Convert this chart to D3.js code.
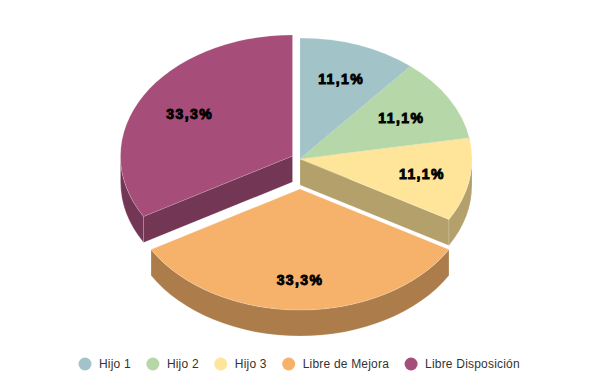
<!DOCTYPE html>
<html>
<head>
<meta charset="utf-8">
<script src="https://cdn.jsdelivr.net/npm/d3@7"></script>
<style>
    html, body { margin: 0; padding: 0; background: #fff; }
    svg { display: block; }
</style>
</head>
<body>
<svg></svg>
<script>
(function () {
    'use strict';

    const categories = ['Hijo 1', 'Hijo 2', 'Hijo 3', 'Libre de Mejora', 'Libre Disposición'];
    const values = [11.1, 11.1, 11.1, 33.3, 33.3];
    const colors = ['#a2c4c9', '#b6d7a8', '#ffe599', '#f6b26b', '#a64d79'];

    const width = 600;
    const height = 371;

    const cx = 300;
    const cy = 159;
    const rx = 172;
    const ry = 121;
    const depth = 26;
    const squash = ry / rx;

    // how far each slice is pulled out of the pie
    const explode = [[0, 0], [0, 0], [0, 0], [0, 30], [-7.5, -3]];
    const labelRadius = [0.7, 0.68, 0.72, 0.75, 0.69];

    const svg = d3.select('svg')
        .attr('width', width)
        .attr('height', height)
        .attr('viewBox', [0, 0, width, height]);

    const pie = d3.pie().sort(null).value(d => d);
    const arcs = pie(values).map((a, i) => ({ ...a, i, off: explode[i] }));

    const arc = d3.arc().innerRadius(0).outerRadius(rx);

    const sliceTransform = d =>
        `translate(${cx + d.off[0]},${cy + d.off[1]}) scale(1,${squash})`;

    const h = depth / squash;

    // outer rim, only the part of it that faces the viewer
    const rimPath = d => {
        const a0 = Math.max(d.startAngle, Math.PI / 2) - Math.PI / 2;
        const a1 = Math.min(d.endAngle, Math.PI * 1.5) - Math.PI / 2;
        if (a1 <= a0) return null;
        const p = d3.path();
        p.arc(0, 0, rx, a0, a1);
        p.lineTo(rx * Math.cos(a1), rx * Math.sin(a1) + h);
        p.arc(0, h, rx, a1, a0, true);
        p.closePath();
        return p.toString();
    };

    // flat cut side of a slice going from the centre to the rim
    const cutPath = angle => {
        const a = angle - Math.PI / 2;
        const p = d3.path();
        p.moveTo(0, 0);
        p.lineTo(rx * Math.cos(a), rx * Math.sin(a));
        p.lineTo(rx * Math.cos(a), rx * Math.sin(a) + h);
        p.lineTo(0, h);
        p.closePath();
        return p.toString();
    };

    const cutAngles = d => {
        const out = [];
        if (Math.sin(d.startAngle) < -1e-6) out.push(d.startAngle);
        if (Math.sin(d.endAngle) > 1e-6) out.push(d.endAngle);
        return out;
    };

    const edge = sel => sel
        .attr('stroke', '#fff')
        .attr('stroke-opacity', 0.25)
        .attr('stroke-width', 0.6)
        .attr('vector-effect', 'non-scaling-stroke');

    const sides = svg.append('g').classed('sides', true);

    sides.selectAll('g')
        .data(arcs)
        .join('g')
        .attr('transform', sliceTransform)
        .each(function (d) {
            const g = d3.select(this);
            const fill = d3.rgb(colors[d.i]);
            const dark = d3.rgb(fill.r * 0.7, fill.g * 0.7, fill.b * 0.7);
            cutAngles(d).forEach(angle => {
                g.append('path').attr('d', cutPath(angle)).attr('fill', dark).call(edge);
            });
            const rim = rimPath(d);
            if (rim) g.append('path').attr('d', rim).attr('fill', dark).call(edge);
        });

    svg.append('g').classed('tops', true)
        .selectAll('path')
        .data(arcs)
        .join('path')
        .attr('transform', sliceTransform)
        .attr('d', arc)
        .attr('fill', d => colors[d.i])
        .call(edge);

    svg.append('g').classed('labels', true)
        .selectAll('text')
        .data(arcs)
        .join('text')
        .attr('x', d => {
            const mid = (d.startAngle + d.endAngle) / 2;
            return cx + d.off[0] + rx * labelRadius[d.i] * Math.sin(mid);
        })
        .attr('y', d => {
            const mid = (d.startAngle + d.endAngle) / 2;
            return cy + d.off[1] - ry * labelRadius[d.i] * Math.cos(mid);
        })
        .attr('dy', '0.35em')
        .attr('text-anchor', 'middle')
        .attr('font-family', '"Liberation Sans", Arial, sans-serif')
        .attr('font-size', 14)
        .attr('font-weight', 'bold')
        .attr('letter-spacing', 1.4)
        .attr('stroke', '#000')
        .attr('stroke-width', 0.9)
        .attr('fill', '#000')
        .text(d => d3.format('.1f')(d.data).replace('.', ',') + '%');

    // legend, laid out left to right from the measured text widths
    const legend = svg.append('g').classed('legend', true);
    let lx = 85;
    categories.forEach((name, i) => {
        legend.append('circle')
            .attr('cx', lx)
            .attr('cy', 364)
            .attr('r', 6.5)
            .attr('fill', colors[i]);
        const t = legend.append('text')
            .attr('x', lx + 14)
            .attr('y', 364)
            .attr('dy', '0.35em')
            .attr('font-family', '"Liberation Sans", Arial, sans-serif')
            .attr('font-size', 12)
            .attr('letter-spacing', 0.2)
            .attr('fill', '#333')
            .text(name);
        lx += 14 + t.node().getComputedTextLength() + 22;
    });
})();
</script>
</body>
</html>
